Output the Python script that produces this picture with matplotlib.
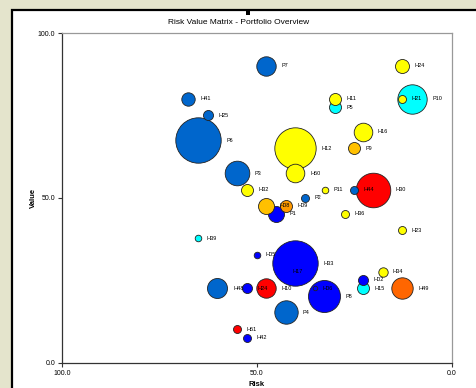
import numpy as np
import matplotlib.pyplot as plt
from matplotlib.patches import Rectangle

# portfolio items: risk score, value score, bubble size, colour group
names = ['P7', 'H24', 'H41', 'P5', 'H11', 'P10', 'H21', 'P6', 'H25',
         'H12', 'H50', 'H16', 'P9', 'P3', 'H32', 'P11', 'H30', 'H44',
         'P2', 'P1', 'H08', 'H09', 'H36', 'H23', 'H39', 'H05', 'H17',
         'H33', 'H48', 'H24', 'H10', 'P8', 'H06', 'H34', 'H15', 'H02',
         'H49', 'P4', 'H51', 'H42']
risk = [47.7, 12.7, 67.7, 30.0, 30.0, 10.2, 12.7, 65.1, 62.6,
        40.1, 40.1, 22.8, 25.0, 55.2, 52.6, 32.6, 20.3, 25.0,
        37.6, 45.1, 47.7, 42.6, 27.5, 12.7, 65.1, 50.0, 43.0,
        40.1, 60.1, 52.6, 47.7, 32.8, 35.1, 17.7, 22.7, 22.7,
        12.7, 42.6, 55.1, 52.6]
value = [90.1, 90.0, 80.0, 77.5, 80.0, 80.0, 80.0, 67.5, 75.1,
         65.0, 57.4, 70.0, 65.0, 57.4, 52.4, 52.4, 52.4, 52.4,
         50.0, 45.2, 47.6, 47.6, 45.2, 40.2, 37.7, 32.7, 27.6,
         30.1, 22.6, 22.6, 22.6, 20.2, 22.6, 27.6, 22.6, 25.1,
         22.6, 15.3, 10.1, 7.6]
size = [18.3, 9.5, 8.7, 7.0, 7.0, 41.9, 3.1, 100, 4.9,
        83, 16.8, 16.8, 7.0, 29.4, 7.0, 2.1, 58, 3.1,
        3.1, 12.4, 12.4, 7.0, 3.1, 3.1, 2.1, 2.1, 1.7,
        100, 19.4, 4.9, 18.3, 49.7, 1.0, 4.3, 7.0, 4.9,
        22.2, 26.6, 3.1, 3.1]
group = ['A', 'Y', 'A', 'C', 'Y', 'C', 'Y', 'A', 'A',
         'Y', 'Y', 'Y', 'O', 'A', 'Y', 'Y', 'R', 'A',
         'A', 'B', 'O', 'D', 'Y', 'Y', 'C', 'B', 'B',
         'B', 'A', 'B', 'R', 'B', 'B', 'Y', 'C', 'B',
         'E', 'A', 'R', 'B']

colours = {'A': '#0066CC', 'B': '#0000FF', 'Y': '#FFFF00', 'C': '#00FFFF',
           'R': '#FF0000', 'O': '#FFC000', 'D': '#FF9900', 'E': '#FF6600'}

fig = plt.figure(figsize=(4.76, 3.88), dpi=100)
fig.patch.set_facecolor('#E4E4CC')
plt.rcParams['font.family'] = ['Liberation Sans', 'DejaVu Sans']

# white chart area with dark frame, kept behind the axes
fig.patches.append(Rectangle((12/476, -0.05), 1, 1.05 - 10/388, transform=fig.transFigure,
                             facecolor='white', edgecolor='black', linewidth=1.6,
                             zorder=-5))
fig.patches.append(Rectangle((246/476, 1 - 15/388), 4/476, 5/388, transform=fig.transFigure,
                             facecolor='black', edgecolor='none', zorder=-4))

ax = fig.add_axes([62/476, 1 - 362.7/388, (451.7 - 62)/476, (362.7 - 33)/388])
ax.set_xlim(100, 0)
ax.set_ylim(0, 100)

# bubble radius in pixels, area proportional to size
r_px = 22.7 * np.sqrt(np.array(size) / 100.0)
r_pt = r_px * 0.72
for i in range(len(names)):
    ax.scatter(risk[i], value[i], s=(2 * r_pt[i])**2, color=colours[group[i]],
               edgecolors='#222222', linewidths=0.6, zorder=2 + i * 0.01)
for i in range(len(names)):
    ax.annotate(names[i], (risk[i], value[i]), xytext=(r_pt[i] + 4, 0),
                textcoords='offset points', va='center', ha='left',
                fontsize=4, zorder=10)

ax.set_xticks([100, 50, 0])
ax.set_yticks([0, 50, 100])
ax.set_xticklabels(['100.0', '50.0', '0.0'])
ax.set_yticklabels(['0.0', '50.0', '100.0'])
ax.tick_params(labelsize=5, length=3, width=0.8, color='#333333', pad=2)
for side in ['left', 'bottom']:
    ax.spines[side].set_color('#333333')
    ax.spines[side].set_linewidth(0.9)
for side in ['top', 'right']:
    ax.spines[side].set_color('#999999')
    ax.spines[side].set_linewidth(0.9)

fig.text(0.502, 1 - 22/388, 'Risk Value Matrix - Portfolio Overview',
         ha='center', va='center', fontsize=6)
fig.text(33/476, 1 - 198/388, 'Value', rotation=90, ha='center', va='center',
         fontsize=5.5, fontweight='bold')
fig.text(257/476, 1 - 384/388, 'Risk', ha='center', va='center',
         fontsize=5.5, fontweight='bold')

fig.savefig('out.png', dpi=100, facecolor=fig.get_facecolor())
